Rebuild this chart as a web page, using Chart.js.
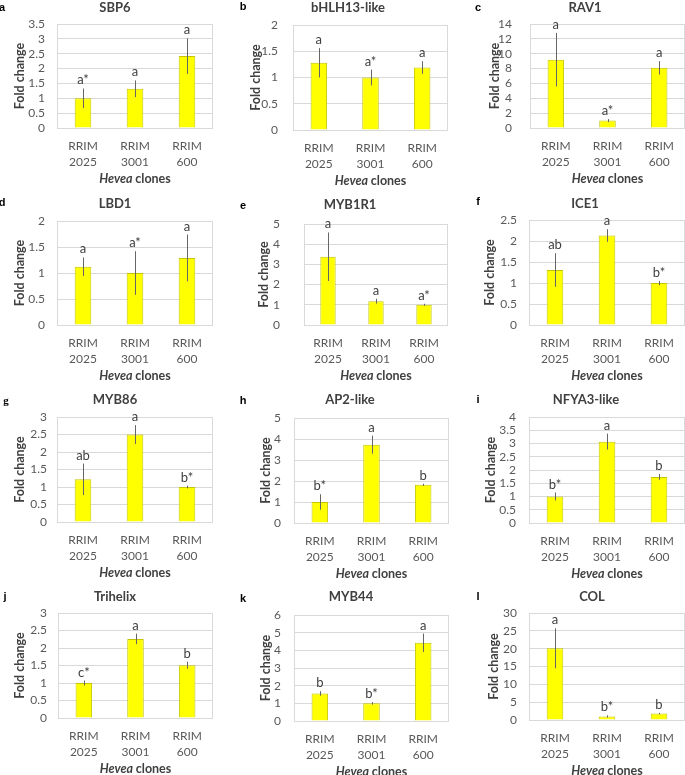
<!DOCTYPE html>
<html>
<head>
<meta charset="utf-8">
<script src="https://cdn.jsdelivr.net/npm/chart.js@4.4.1/dist/chart.umd.min.js"></script>
<style>
body{margin:0;background:#fff;}
#wrap{position:relative;width:685px;height:775px;overflow:hidden;background:#fff;}
canvas{position:absolute;}
.lt{position:absolute;font:bold 11px "Liberation Sans";color:#000;line-height:1;transform:translate(-50%,-50%);}
</style>
</head>
<body>
<div id="wrap"></div>
<script>
// data
const genes = ["SBP6","bHLH13-like","RAV1","LBD1","MYB1R1","ICE1","MYB86","AP2-like","NFYA3-like","Trihelix","MYB44","COL"];
const panelLetters = ["a","b","c","d","e","f","g","h","i","j","k","l"];
const clones = [["RRIM","2025"],["RRIM","3001"],["RRIM","600"]];
const foldChange = [
    [1.0, 1.32, 2.42],
    [1.28, 1.0, 1.19],
    [9.2, 1.0, 8.1],
    [1.12, 1.0, 1.29],
    [3.38, 1.18, 1.0],
    [1.31, 2.13, 1.0],
    [1.22, 2.5, 1.0],
    [1.0, 3.73, 1.82],
    [1.0, 3.07, 1.74],
    [1.0, 2.26, 1.51],
    [1.56, 1.0, 4.43],
    [20.1, 1.0, 1.8]
];
const stdError = [
    [0.33, 0.28, 0.6],
    [0.28, 0.15, 0.12],
    [3.6, 0.2, 0.9],
    [0.18, 0.42, 0.45],
    [1.2, 0.12, 0.05],
    [0.4, 0.15, 0.05],
    [0.45, 0.27, 0.04],
    [0.37, 0.43, 0.05],
    [0.15, 0.3, 0.11],
    [0.07, 0.15, 0.1],
    [0.13, 0.07, 0.52],
    [5.6, 0.3, 0.2]
];
const sigLetters = [
    ["a*","a","a"],
    ["a","a*","a"],
    ["a","a*","a"],
    ["a","a*","a"],
    ["a","a","a*"],
    ["ab","a","b*"],
    ["ab","a","b*"],
    ["b*","a","b"],
    ["b*","a","b"],
    ["c*","a","b"],
    ["b","b*","a"],
    ["a","b*","b"]
];
const yMax = [3.5, 2, 14, 2, 5, 2.5, 3, 5, 4, 3, 6, 30];
const yStep = [0.5, 0.5, 2, 0.5, 1, 0.5, 0.5, 1, 0.5, 0.5, 1, 5];

// page layout
const colLeft = [0, 228, 455], colWidth = [228, 227, 230];
const rowTop = [0, 194, 389, 584], rowHeight = [194, 195, 195, 191];
// plotLeft, plotRight, plotTop, plotBottom, tickRight, yTitleX, titleX, titleY
const boxes = [
    [57,213,24,128,45,20,115,8],
    [293,448,25,130,278,256,348,8],
    [530,685,24,128,512,495,585,8],
    [57,213,221,325,45,20,115,204],
    [304,448,221,325,280,264,350,205],
    [529,685,220,325,517,490,585,204],
    [57,213,417,522,47,20,115,400],
    [294,449,418,523,281,266,350,400],
    [529,685,417,523,516,491,586,400],
    [58,213,613,718,47,20,115,597],
    [294,449,615,721,281,266,351,597],
    [529,685,613,720,517,494,592,597]
];
const letterPos = [[2,7],[243,6],[478,7],[2,202],[243,205],[478,201],[6,400],[243,400],[478,399],[5,596],[243,598],[478,596]];

Chart.defaults.font.family = "Lato";
Chart.defaults.color = "#595959";

const wrap = document.getElementById("wrap");
const xH = 50;

genes.forEach(function(gene, p){
    const row = Math.floor(p / 3), col = p % 3;
    const L = colLeft[col], T = rowTop[row], W = colWidth[col], H = rowHeight[row];
    const b = boxes[p];

    const cv = document.createElement("canvas");
    cv.width = W;
    cv.height = H;
    cv.style.left = L + "px";
    cv.style.top = T + "px";
    wrap.appendChild(cv);

    const lt = document.createElement("div");
    lt.className = "lt";
    lt.textContent = panelLetters[p];
    lt.style.left = letterPos[p][0] + "px";
    lt.style.top = letterPos[p][1] + "px";
    if (panelLetters[p] == "g") lt.style.fontFamily = "Liberation Serif";
    wrap.appendChild(lt);

    const extras = {
        id: "extras" + p,
        beforeDatasetsDraw: function(chart){
            const ctx = chart.ctx, a = chart.chartArea;
            ctx.save();
            ctx.strokeStyle = "#d9d9d9";
            ctx.lineWidth = 1;
            ctx.strokeRect(Math.round(a.left) + 0.5, Math.round(a.top) + 0.5,
                Math.round(a.right - a.left) - 1, Math.round(a.bottom - a.top));
            ctx.restore();
        },
        afterDatasetsDraw: function(chart){
            const ctx = chart.ctx, ys = chart.scales.y;
            const meta = chart.getDatasetMeta(0);
            ctx.save();
            meta.data.forEach(function(bar, i){
                const v = foldChange[p][i], e = stdError[p][i];
                const x = Math.round(bar.x) + 0.5;
                const top = ys.getPixelForValue(v + e);
                const bot = ys.getPixelForValue(Math.max(v - e, 0));
                ctx.strokeStyle = "#666666";
                ctx.lineWidth = 1;
                ctx.beginPath();
                ctx.moveTo(x, bot);
                ctx.lineTo(x, top);
                ctx.stroke();
                ctx.fillStyle = "#404040";
                ctx.font = "13px Lato";
                ctx.textAlign = "center";
                ctx.textBaseline = "alphabetic";
                ctx.fillText(sigLetters[p][i], bar.x, top - 4);
            });
            ctx.restore();
        },
        afterDraw: function(chart){
            const ctx = chart.ctx, a = chart.chartArea;
            ctx.save();
            ctx.fillStyle = "#404040";
            ctx.textBaseline = "middle";
            ctx.textAlign = "center";
            ctx.font = "bold 13px Lato";
            ctx.fillText(gene, b[6] - L, b[7] - T);
            // x axis title, genus in italics
            const part1 = "Hevea ", part2 = "clones";
            ctx.font = "italic bold 12.5px Lato";
            const w1 = ctx.measureText(part1).width;
            ctx.font = "bold 12.5px Lato";
            const w2 = ctx.measureText(part2).width;
            const cx = (a.left + a.right) / 2;
            const yy = a.bottom + 51;
            ctx.textAlign = "left";
            ctx.font = "italic bold 12.5px Lato";
            ctx.fillText(part1, cx - (w1 + w2) / 2, yy);
            ctx.font = "bold 12.5px Lato";
            ctx.fillText(part2, cx - (w1 + w2) / 2 + w1, yy);
            ctx.restore();
        }
    };

    new Chart(cv, {
        type: "bar",
        data: {
            labels: clones,
            datasets: [{
                data: foldChange[p],
                backgroundColor: "#ffff00",
                borderColor: "#c4c400",
                borderWidth: 1,
                barPercentage: 0.32,
                categoryPercentage: 1
            }]
        },
        options: {
            responsive: false,
            animation: false,
            layout: {
                padding: {
                    left: 0,
                    top: b[2] - T,
                    right: L + W - b[1],
                    bottom: H - (b[3] - T) - xH
                }
            },
            plugins: {
                legend: {display: false},
                tooltip: {enabled: false}
            },
            scales: {
                x: {
                    grid: {display: false},
                    border: {display: false},
                    ticks: {padding: 2, maxRotation: 0, color: "#595959", font: {size: 12, lineHeight: 1.35}},
                    afterFit: function(s){ s.height = xH; }
                },
                y: {
                    min: 0,
                    max: yMax[p],
                    ticks: {
                        count: Math.round(yMax[p] / yStep[p]) + 1,
                        autoSkip: false,
                        padding: b[0] - b[4],
                        color: "#595959",
                        font: {size: 12, lineHeight: 1},
                        callback: function(v){ return String(+v.toFixed(2)); }
                    },
                    grid: {color: "#d9d9d9", drawTicks: false},
                    border: {display: false},
                    title: {
                        display: true,
                        text: "Fold change",
                        color: "#404040",
                        font: {size: 12.5, weight: "bold"},
                        padding: {top: b[5] - L - 7.5, bottom: 0}
                    },
                    afterFit: function(s){ s.width = b[0] - L; }
                }
            }
        },
        plugins: [extras]
    });
});
</script>
</body>
</html>
